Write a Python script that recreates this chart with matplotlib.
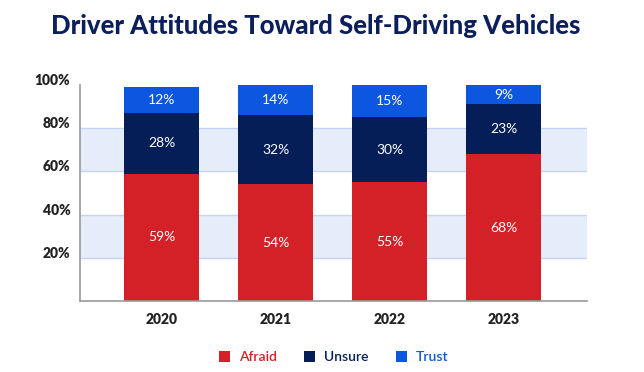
import matplotlib
matplotlib.use("Agg")
import matplotlib.pyplot as plt
import matplotlib.transforms as mtransforms
from matplotlib.patches import Patch

years = ["2020", "2021", "2022", "2023"]
afraid = [59, 54, 55, 68]
unsure = [28, 32, 30, 23]
trust = [12, 14, 15, 9]
series_names = ["Afraid", "Unsure", "Trust"]
series_colors = ["#D42027", "#051E57", "#0D57E0"]
yticks = [20, 40, 60, 80, 100]

plt.rcParams["font.family"] = ["Lato", "DejaVu Sans"]

fig = plt.figure(figsize=(6.44, 3.72), dpi=100)
ax = fig.add_axes([80 / 644, (372 - 301) / 372, (587 - 80) / 644, 216 / 372])

# light bands behind the bars
for lo, hi in [(20, 40), (60, 80)]:
    ax.axhspan(lo, hi, facecolor="#E6EDFA", edgecolor="none", zorder=0)
for y in [20, 40, 60, 80]:
    ax.axhline(y, color="#C3D4F4", lw=1, zorder=0.5)

x = list(range(len(years)))
bottom = [0] * len(years)
for name, vals, col in zip(series_names, [afraid, unsure, trust], series_colors):
    bars = ax.bar(x, vals, width=0.66, bottom=bottom, color=col, zorder=2)
    for b, v in zip(bars, vals):
        ax.text(b.get_x() + b.get_width() / 2, b.get_y() + b.get_height() / 2,
                f"{v}%", ha="center", va="center", color="white", fontsize=10, zorder=3)
    bottom = [a + v for a, v in zip(bottom, vals)]

ax.set_xlim(-0.715, 3.73)
ax.set_ylim(0, 100)
ax.set_xticks(x)
ax.set_xticklabels(years, fontsize=10, fontweight="heavy", color="#222222")
ax.set_yticks(yticks)
ax.set_yticklabels([f"{t}%" for t in yticks], fontsize=10, fontweight="heavy", color="#222222")
ax.tick_params(length=0)
ax.tick_params(axis="x", pad=9)
ax.tick_params(axis="y", pad=7)
offset = mtransforms.ScaledTranslation(0, 4 / 72, fig.dpi_scale_trans)
for lab in ax.get_yticklabels():
    lab.set_transform(lab.get_transform() + offset)

for s in ["top", "right"]:
    ax.spines[s].set_visible(False)
for s in ["left", "bottom"]:
    ax.spines[s].set_color("#999999")
    ax.spines[s].set_linewidth(1.2)

fig.text(0.49, 0.93, "Driver Attitudes Toward Self-Driving Vehicles",
         ha="center", va="center", fontsize=18.5, fontweight="black", color="#0B1F5C")

handles = [Patch(facecolor=c, edgecolor="none") for c in series_colors]
fig.legend(handles, series_names, loc="center", bbox_to_anchor=(0.518, 0.04), ncol=3,
           frameon=False, handlelength=0.8, handleheight=0.8, columnspacing=2.0,
           handletextpad=0.6, labelcolor=series_colors,
           prop={"size": 10, "weight": "semibold"})

fig.savefig("out.png", dpi=100)
